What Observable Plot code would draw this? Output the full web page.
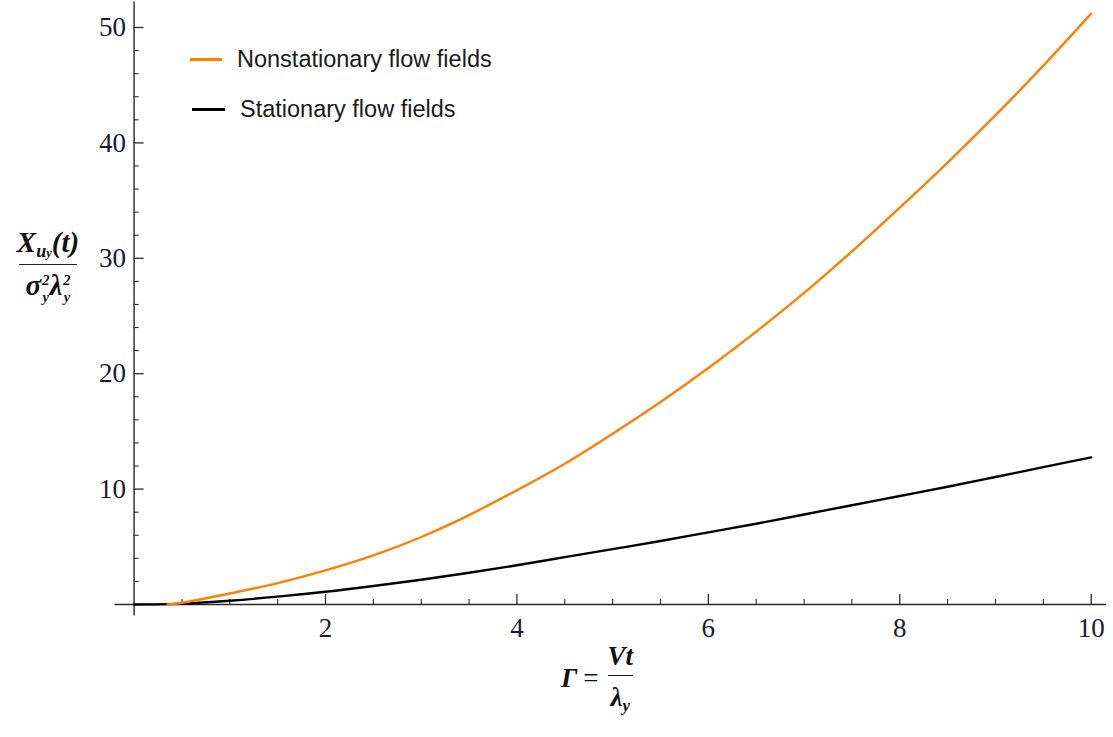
<!DOCTYPE html>
<html>
<head>
<meta charset="utf-8">
<script src="https://cdn.jsdelivr.net/npm/d3@7"></script>
<script src="https://cdn.jsdelivr.net/npm/@observablehq/plot@0.6"></script>
<style>
  html, body { margin: 0; padding: 0; background: #fff; }
  #wrap { position: relative; width: 1113px; height: 737px; overflow: hidden; }
  #chart { position: absolute; left: 0; top: 0; }
  .math { position: absolute; font-family: "Liberation Serif", "DejaVu Serif", serif; font-weight: bold; font-style: italic; color: #111; white-space: nowrap; }
  .frac { display: inline-flex; flex-direction: column; align-items: center; vertical-align: middle; }
  .frac .num { padding: 0 6px 4px 6px; line-height: 1; }
  .frac .den { padding: 6px 6px 0 6px; line-height: 1; border-top: 1.6px solid #222; }
  .ss { display: inline-block; vertical-align: middle; font-size: 0.5em; margin-left: 1px; }
  .ss span { display: block; line-height: 1.15; height: 1.15em; }
  .sub { font-size: 0.62em; vertical-align: -0.3em; }
  .legend { position: absolute; font-family: "Liberation Sans", Arial, sans-serif; font-size: 23.5px; color: #1a1a1a; line-height: 1; }
  .legend .sw { position: absolute; height: 2.5px; }
</style>
</head>
<body>
<div id="wrap">
  <div id="chart"></div>
  <div class="math" style="left:2px; top:228px; width:92px; text-align:center; font-size:29px;">
    <span class="frac">
      <span class="num">X<span class="sub">u<span style="font-size:0.7em">y</span></span>(t)</span>
      <span class="den">σ<span class="ss"><span>2</span><span>y</span></span>λ<span class="ss"><span>2</span><span>y</span></span></span>
    </span>
  </div>
  <div class="math" style="left:561px; top:643px; font-size:27px;">
    <span style="vertical-align:middle;">Γ</span><span style="font-style:normal; font-weight:normal; margin:0 6px; vertical-align:middle;">=</span><span class="frac">
      <span class="num" style="padding:0 3px 5px 3px;">Vt</span>
      <span class="den" style="padding:8px 3px 0 3px;">λ<span class="sub">y</span></span>
    </span>
  </div>
  <div class="legend" style="left:0; top:0;">
    <div class="sw" style="left:190px; top:58px; width:32px; background:#ff8000;"></div>
    <div style="position:absolute; left:237px; top:48px; white-space:nowrap;">Nonstationary flow fields</div>
    <div class="sw" style="left:192px; top:108px; width:33px; background:#000;"></div>
    <div style="position:absolute; left:240px; top:98px; white-space:nowrap;">Stationary flow fields</div>
  </div>
</div>
<script>
// Data
const gammaN = [0.35, 0.5, 1, 1.5, 2, 2.5, 3, 3.5, 4, 4.5, 5, 5.5, 6, 6.5, 7, 7.5, 8, 8.5, 9, 9.5, 10];
const nonstationary = [0, 0.15, 0.95, 1.85, 2.95, 4.25, 5.85, 7.75, 9.9, 12.2, 14.8, 17.55, 20.5, 23.65, 27.0, 30.6, 34.4, 38.3, 42.4, 46.7, 51.2];
const gammaS = [0, 0.5, 1, 1.5, 2, 2.5, 3, 3.5, 4, 4.5, 5, 5.5, 6, 6.5, 7, 7.5, 8, 8.5, 9, 9.5, 10];
const stationary = [0, 0.08, 0.33, 0.68, 1.1, 1.6, 2.15, 2.75, 3.4, 4.1, 4.8, 5.5, 6.25, 7.0, 7.8, 8.6, 9.4, 10.2, 11.05, 11.9, 12.75];

const xMajorTicks = [2, 4, 6, 8, 10];
const xMinorTicks = [0.5, 1, 1.5, 2.5, 3, 3.5, 4.5, 5, 5.5, 6.5, 7, 7.5, 8.5, 9, 9.5];
const yMajorTicks = [10, 20, 30, 40, 50];
const yMinorTicks = [2, 4, 6, 8, 12, 14, 16, 18, 22, 24, 26, 28, 32, 34, 36, 38, 42, 44, 46, 48];

const nonData = gammaN.map((g, i) => ({g, v: nonstationary[i]}));
const staData = gammaS.map((g, i) => ({g, v: stationary[i]}));

const axisColor = "#2a2a2a";
const tickFont = "Liberation Serif, DejaVu Serif, serif";

const chart = Plot.plot({
  width: 1113,
  height: 737,
  marginLeft: 133.6,
  marginRight: 22.3,
  marginTop: 27,
  marginBottom: 133,
  x: {domain: [0, 10]},
  y: {domain: [0, 50]},
  style: {background: "transparent", overflow: "visible"},
  marks: [
    // axis lines through the origin
    Plot.ruleY([0], {x1: -0.2, x2: 10.16, stroke: axisColor, strokeWidth: 1.4}),
    Plot.ruleX([0], {y1: -1.0, y2: 52.2, stroke: axisColor, strokeWidth: 1.4}),
    // inward ticks
    Plot.axisX(xMajorTicks, {anchor: "bottom", tickSize: -10, fill: "none", stroke: axisColor, strokeWidth: 1.3, label: null}),
    Plot.axisX(xMinorTicks, {anchor: "bottom", tickSize: -5, fill: "none", stroke: axisColor, strokeWidth: 1.1, label: null}),
    Plot.axisY(yMajorTicks, {anchor: "left", tickSize: -10, fill: "none", stroke: axisColor, strokeWidth: 1.3, label: null}),
    Plot.axisY(yMinorTicks, {anchor: "left", tickSize: -5, fill: "none", stroke: axisColor, strokeWidth: 1.1, label: null}),
    // tick labels
    Plot.axisX(xMajorTicks, {anchor: "bottom", tickSize: 0, tickPadding: 13, fontSize: 27, fontFamily: tickFont, fill: "#1a1a2a", label: null}),
    Plot.axisY(yMajorTicks, {anchor: "left", tickSize: 0, tickPadding: 8, fontSize: 27, fontFamily: tickFont, fill: "#1a1a2a", label: null}),
    // curves
    Plot.line(staData, {x: "g", y: "v", stroke: "#000", strokeWidth: 2.4, curve: "catmull-rom"}),
    Plot.line(nonData, {x: "g", y: "v", stroke: "#ff8000", strokeWidth: 2.4, curve: "catmull-rom"})
  ]
});
document.getElementById("chart").appendChild(chart);
</script>
</body>
</html>
